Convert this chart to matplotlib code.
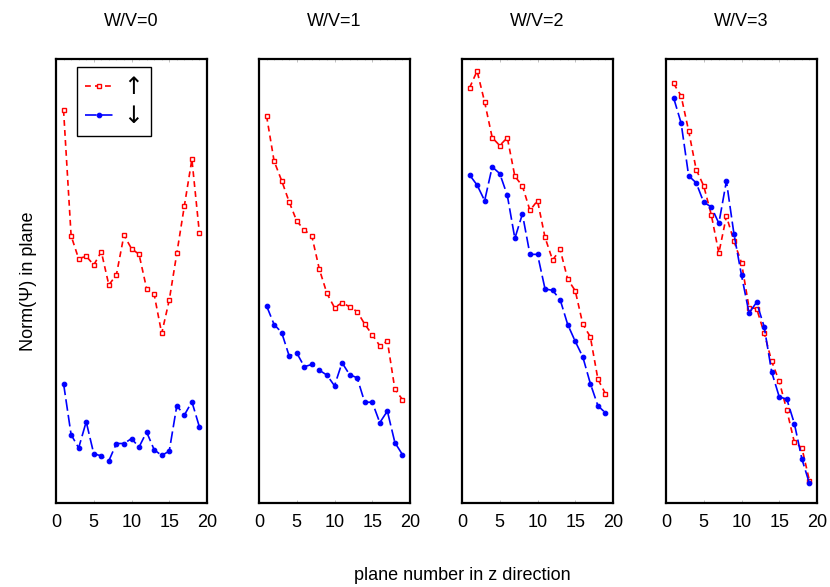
import matplotlib
matplotlib.use("Agg")
import matplotlib.pyplot as plt
from matplotlib.ticker import MultipleLocator

plt.rcParams['font.family'] = ['Liberation Sans', 'DejaVu Sans']

planes = list(range(1, 20))
titles = ["W/V=0", "W/V=1", "W/V=2", "W/V=3"]
xticks = [0, 5, 10, 15, 20]
legend_labels = ["\u2191", "\u2193"]

up_wv0 = [0.885, 0.602, 0.550, 0.556, 0.536, 0.566, 0.491, 0.514, 0.603, 0.573,
          0.560, 0.483, 0.470, 0.382, 0.457, 0.562, 0.669, 0.774, 0.607]
down_wv0 = [0.269, 0.154, 0.124, 0.183, 0.111, 0.106, 0.095, 0.134, 0.134, 0.145,
            0.126, 0.160, 0.120, 0.107, 0.117, 0.219, 0.198, 0.228, 0.171]
up_wv1 = [0.872, 0.770, 0.726, 0.678, 0.635, 0.615, 0.601, 0.526, 0.472, 0.440,
          0.451, 0.442, 0.431, 0.403, 0.379, 0.354, 0.365, 0.256, 0.233]
down_wv1 = [0.444, 0.402, 0.384, 0.331, 0.338, 0.307, 0.312, 0.299, 0.288, 0.264,
            0.316, 0.289, 0.282, 0.227, 0.227, 0.181, 0.207, 0.136, 0.109]
up_wv2 = [0.935, 0.973, 0.903, 0.823, 0.805, 0.823, 0.736, 0.714, 0.659, 0.681,
          0.598, 0.547, 0.571, 0.504, 0.478, 0.403, 0.374, 0.279, 0.246]
down_wv2 = [0.739, 0.716, 0.681, 0.757, 0.742, 0.693, 0.596, 0.651, 0.560, 0.560,
            0.482, 0.479, 0.458, 0.402, 0.364, 0.329, 0.269, 0.219, 0.203]
up_wv3 = [0.945, 0.917, 0.838, 0.751, 0.714, 0.649, 0.563, 0.646, 0.590, 0.541,
          0.440, 0.438, 0.383, 0.319, 0.274, 0.209, 0.137, 0.124, 0.050]
down_wv3 = [0.913, 0.856, 0.737, 0.721, 0.677, 0.667, 0.630, 0.725, 0.606, 0.513,
            0.428, 0.452, 0.397, 0.295, 0.239, 0.234, 0.179, 0.099, 0.044]

ups = [up_wv0, up_wv1, up_wv2, up_wv3]
downs = [down_wv0, down_wv1, down_wv2, down_wv3]

W, H = 830, 587
fig = plt.figure(figsize=(W / 100, H / 100), dpi=100)

lefts = [56, 259, 462, 666]
ax_w = 151
top, bottom = 59, 503

for i, left in enumerate(lefts):
    ax = fig.add_axes([left / W, 1 - bottom / H, ax_w / W, (bottom - top) / H])
    l1, = ax.plot(planes, ups[i], color='red', ls=(0, (3.5, 2.5)), lw=1.2,
                  marker='s', ms=3.2, mfc='white', mec='red', mew=1.0)
    l2, = ax.plot(planes, downs[i], color='blue', ls=(0, (7, 2.5)), lw=1.2,
                  marker='o', ms=3.3, mfc='blue', mec='blue', mew=0.8)
    ax.set_xlim(0, 20)
    ax.set_ylim(0, 1)
    ax.set_xticks(xticks)
    ax.xaxis.set_minor_locator(MultipleLocator(1))
    ax.set_yticks([])
    ax.tick_params(axis='x', which='major', direction='in', length=2, width=0.5,
                   color='#aaaaaa', top=True, labelsize=13, pad=8)
    ax.tick_params(axis='x', which='minor', direction='in', length=1, width=0.5,
                   color='#bbbbbb', top=True)
    for sp in ax.spines.values():
        sp.set_linewidth(1.6)
    ax.set_title(titles[i], fontsize=13, pad=24)
    if i == 0:
        leg = ax.legend([l1, l2], legend_labels, loc='upper left',
                        bbox_to_anchor=(21 / 151, 436 / 444), borderaxespad=0,
                        fancybox=False, edgecolor='black', framealpha=1,
                        prop={'family': 'DejaVu Sans', 'size': 17},
                        handlelength=1.2, handletextpad=0.4, borderpad=0.35,
                        labelspacing=0.2)
        leg.get_frame().set_linewidth(1.0)
        ax.set_ylabel("Norm(\u03a8) in plane", fontsize=13, labelpad=14)

fig.text(462 / W, 1 - 575 / H, "plane number in z direction", fontsize=13,
         ha='center', va='center')

fig.savefig("out.png", dpi=100)
